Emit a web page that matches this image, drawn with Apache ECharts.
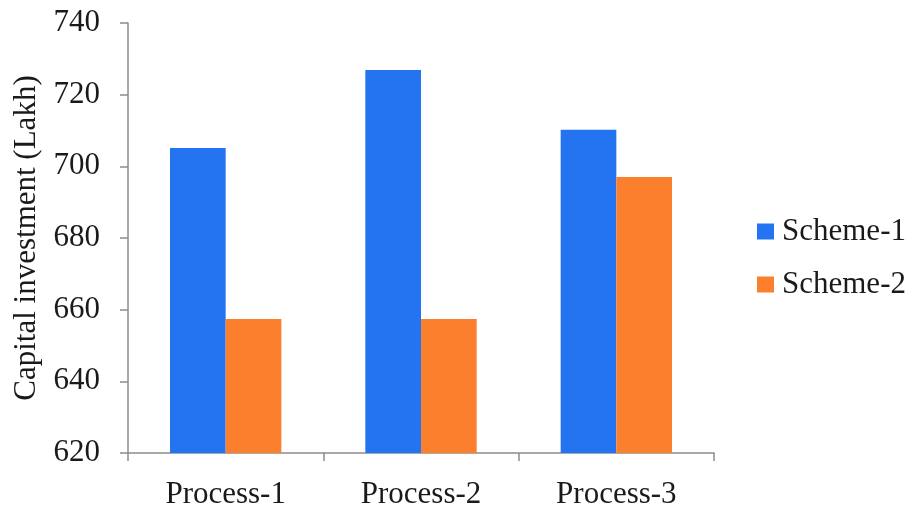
<!DOCTYPE html>
<html>
<head>
<meta charset="utf-8">
<script src="https://cdn.jsdelivr.net/npm/echarts@6/dist/echarts.min.js"></script>
<style>
  html, body { margin: 0; padding: 0; background: #ffffff; }
  #chart { width: 913px; height: 506px; }
</style>
</head>
<body>
<div id="chart"></div>
<script>
// Capital investment per process for two schemes (Lakh)
const categories = ['Process-1', 'Process-2', 'Process-3'];
const seriesNames = ['Scheme-1', 'Scheme-2'];
const scheme1 = [705.1, 726.9, 710.2];
const scheme2 = [657.4, 657.4, 697.0];
const yTicks = { min: 620, max: 740, interval: 20 };

const FONT = '"Liberation Serif", "Times New Roman", serif';
const AXIS_COLOR = '#8c8c8c';

const chart = echarts.init(document.getElementById('chart'), null, { renderer: 'canvas' });

chart.setOption({
  backgroundColor: '#ffffff',
  animation: false,
  grid: { left: 128, right: 199, top: 23, bottom: 53, containLabel: false, outerBoundsMode: 'none' },
  legend: {
    orient: 'vertical',
    left: 757,
    top: 216,
    padding: 0,
    itemWidth: 17,
    itemHeight: 16,
    itemGap: 22,
    icon: 'rect',
    data: seriesNames,
    textStyle: { fontFamily: FONT, fontSize: 31, color: '#1a1a1a', lineHeight: 30, padding: [0, 0, 0, 3] }
  },
  xAxis: {
    type: 'category',
    data: categories,
    axisLine: { lineStyle: { color: AXIS_COLOR, width: 1.5 } },
    axisTick: { show: true, length: 8, alignWithLabel: false, lineStyle: { color: AXIS_COLOR, width: 1.5 } },
    axisLabel: { fontFamily: FONT, fontSize: 31, color: '#1a1a1a', margin: 26 },
    splitLine: { show: false }
  },
  yAxis: {
    type: 'value',
    min: yTicks.min,
    max: yTicks.max,
    interval: yTicks.interval,
    name: 'Capital investment (Lakh)',
    nameLocation: 'middle',
    nameGap: 79,
    nameTextStyle: { fontFamily: FONT, fontSize: 31, color: '#1a1a1a' },
    axisLine: { show: true, lineStyle: { color: AXIS_COLOR, width: 1.5 } },
    axisTick: { show: true, length: 8, lineStyle: { color: AXIS_COLOR, width: 1.5 } },
    axisLabel: { fontFamily: FONT, fontSize: 31, color: '#1a1a1a', margin: 28 },
    splitLine: { show: false }
  },
  series: [
    {
      name: seriesNames[0],
      type: 'bar',
      data: scheme1,
      barGap: '0%',
      barCategoryGap: '43%',
      itemStyle: { color: '#2474f2' }
    },
    {
      name: seriesNames[1],
      type: 'bar',
      data: scheme2,
      barGap: '0%',
      barCategoryGap: '43%',
      itemStyle: { color: '#fb7f2c' }
    }
  ]
});
</script>
</body>
</html>
